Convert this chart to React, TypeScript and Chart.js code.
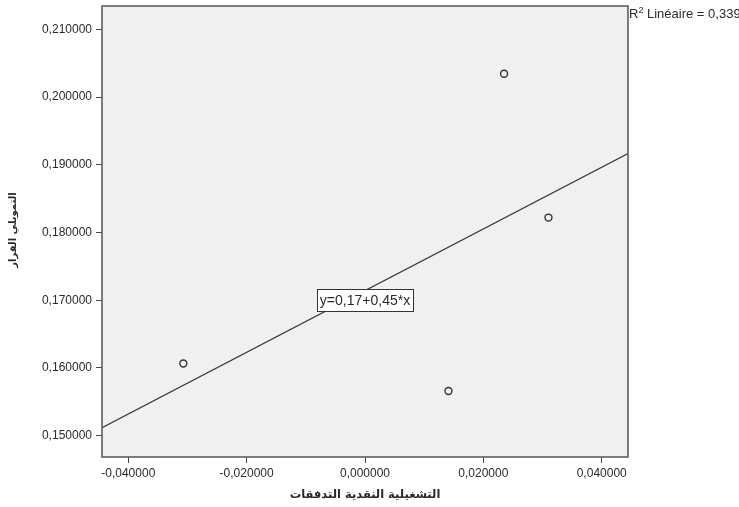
import React, { useEffect, useRef } from "react";
import { Chart, registerables } from "chart.js";

Chart.register(...registerables);

const xValues = [-0.0307, 0.0141, 0.0235, 0.031];
const yValues = [0.16065, 0.1566, 0.20344, 0.1822];
const xTicks = [-0.04, -0.02, 0, 0.02, 0.04];
const yTicks = [0.15, 0.16, 0.17, 0.18, 0.19, 0.2, 0.21];
const xRange = [-0.04444, 0.04444];
const yRange = [0.14685, 0.21344];
const xTitle = "التشغيلية النقدية التدفقات";
const yTitle = "التمويلي القرار";
const equationLabel = "y=0,17+0,45*x";
const r2Prefix = "R";
const r2Sup = "2";
const r2Text = " Linéaire = 0,339";
const equationAnchor = [0, 0.17];

function fitLine(xs: number[], ys: number[]) {
  const n = xs.length;
  const mx = xs.reduce((a, b) => a + b, 0) / n;
  const my = ys.reduce((a, b) => a + b, 0) / n;
  let sxy = 0;
  let sxx = 0;
  for (let i = 0; i < n; i++) {
    sxy += (xs[i] - mx) * (ys[i] - my);
    sxx += (xs[i] - mx) * (xs[i] - mx);
  }
  const b = sxy / sxx;
  const a = my - b * mx;
  return { a, b };
}

const fmt = (v: number) => {
  const s = Math.abs(v) < 1e-12 ? "0.000000" : v.toFixed(6);
  return s.replace(".", ",");
};

const TEXT = "#2a2a2a";
const AXIS_FONT = "Liberation Sans, Arial, sans-serif";

export default function App() {
  const ref = useRef<HTMLCanvasElement | null>(null);

  useEffect(() => {
    if (!ref.current) return;
    const { a, b } = fitLine(xValues, yValues);
    const linePts = xRange.map((x) => ({ x, y: a + b * x }));
    const points = xValues.map((x, i) => ({ x, y: yValues[i] }));

    const decor = {
      id: "decor",
      beforeDatasetsDraw(chart: any) {
        const { ctx, chartArea } = chart;
        ctx.save();
        ctx.fillStyle = "#f0f0f0";
        ctx.fillRect(chartArea.left, chartArea.top, chartArea.right - chartArea.left, chartArea.bottom - chartArea.top);
        ctx.restore();
      },
      afterDatasetsDraw(chart: any) {
        const { ctx, chartArea, scales } = chart;
        ctx.save();
        // frame
        ctx.strokeStyle = "#555555";
        ctx.lineWidth = 1.5;
        ctx.strokeRect(chartArea.left, chartArea.top, chartArea.right - chartArea.left, chartArea.bottom - chartArea.top);

        // equation box
        const ex = scales.x.getPixelForValue(equationAnchor[0]);
        const ey = scales.y.getPixelForValue(equationAnchor[1]);
        ctx.font = "14px " + AXIS_FONT;
        const tw = ctx.measureText(equationLabel).width;
        const bw = Math.round(tw + 6);
        const bh = 22;
        const bx = Math.round(ex - bw / 2);
        const by = Math.round(ey - bh / 2);
        ctx.fillStyle = "#ffffff";
        ctx.fillRect(bx, by, bw, bh);
        ctx.strokeStyle = "#333333";
        ctx.lineWidth = 1;
        ctx.strokeRect(bx + 0.5, by + 0.5, bw, bh);
        ctx.fillStyle = TEXT;
        ctx.textAlign = "center";
        ctx.textBaseline = "middle";
        ctx.fillText(equationLabel, ex, ey + 1);

        // x title
        ctx.font = "bold 11.5px DejaVu Sans, sans-serif";
        ctx.fillStyle = TEXT;
        ctx.textAlign = "center";
        ctx.textBaseline = "middle";
        ctx.fillText(xTitle, (chartArea.left + chartArea.right) / 2, 495);

        // y title
        ctx.save();
        ctx.font = "bold 10px DejaVu Sans, sans-serif";
        ctx.translate(13, 230);
        ctx.rotate(-Math.PI / 2);
        ctx.fillText(yTitle, 0, 0);
        ctx.restore();

        // R2 label
        ctx.textAlign = "left";
        ctx.textBaseline = "alphabetic";
        ctx.font = "13px " + AXIS_FONT;
        let rx = chartArea.right + 1;
        const ry = 18;
        ctx.fillText(r2Prefix, rx, ry);
        rx += ctx.measureText(r2Prefix).width;
        ctx.font = "9px " + AXIS_FONT;
        ctx.fillText(r2Sup, rx, ry - 5);
        rx += ctx.measureText(r2Sup).width;
        ctx.font = "13px " + AXIS_FONT;
        ctx.fillText(r2Text, rx, ry);
        ctx.restore();
      },
    };

    const chart = new Chart(ref.current, {
      type: "scatter",
      data: {
        datasets: [
          {
            type: "line",
            data: linePts,
            borderColor: "#3a3a3a",
            borderWidth: 1.3,
            pointRadius: 0,
            fill: false,
          } as any,
          {
            type: "scatter",
            data: points,
            pointRadius: 3.5,
            pointBorderWidth: 1.4,
            pointBorderColor: "#333333",
            pointBackgroundColor: "rgba(0,0,0,0)",
          } as any,
        ],
      },
      options: {
        responsive: false,
        animation: false,
        events: [],
        layout: { padding: { left: 0, top: 6, right: 111, bottom: 0 } },
        plugins: { legend: { display: false }, tooltip: { enabled: false }, title: { display: false } },
        scales: {
          x: {
            type: "linear",
            min: xRange[0],
            max: xRange[1],
            afterFit: (s: any) => {
              s.height = 50;
              s.paddingLeft = 0;
              s.paddingRight = 0;
            },
            afterBuildTicks: (s: any) => {
              s.ticks = xTicks.map((v) => ({ value: v }));
            },
            border: { display: false },
            grid: { drawOnChartArea: false, drawTicks: true, tickLength: 6, color: "#444444", lineWidth: 1 },
            ticks: {
              padding: 3,
              color: TEXT,
              font: { family: AXIS_FONT, size: 12 },
              maxRotation: 0,
              callback: (v: any) => fmt(Number(v)),
            },
          },
          y: {
            type: "linear",
            min: yRange[0],
            max: yRange[1],
            afterFit: (s: any) => {
              s.width = 102;
              s.paddingTop = 0;
              s.paddingBottom = 0;
            },
            afterBuildTicks: (s: any) => {
              s.ticks = yTicks.map((v) => ({ value: v }));
            },
            border: { display: false },
            grid: { drawOnChartArea: false, drawTicks: true, tickLength: 6, color: "#444444", lineWidth: 1 },
            ticks: {
              padding: 4,
              color: TEXT,
              font: { family: AXIS_FONT, size: 12 },
              callback: (v: any) => fmt(Number(v)),
            },
          },
        },
      },
      plugins: [decor],
    });
    return () => chart.destroy();
  }, []);

  return (
    <div style={{ position: "absolute", left: 0, top: 0, width: 739, height: 507, background: "#ffffff" }}>
      <canvas ref={ref} width={739} height={507} style={{ display: "block" }} />
    </div>
  );
}
